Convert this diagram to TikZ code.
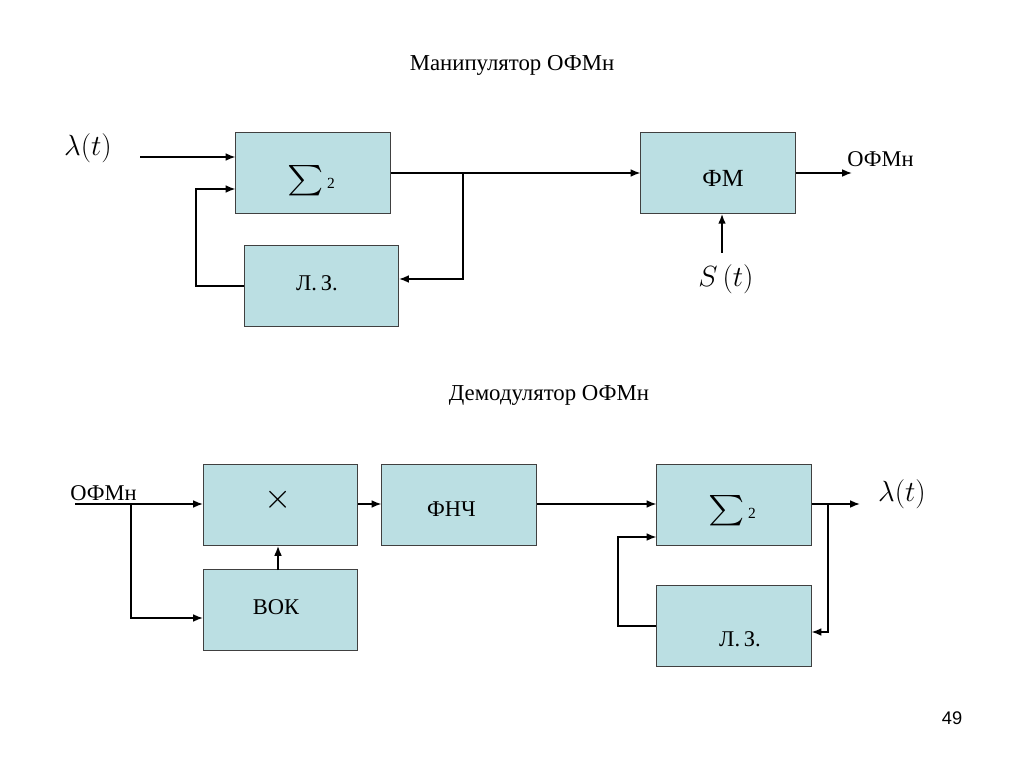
\documentclass[tikz,border=0pt]{standalone}
\usepackage{amsmath}
\usepackage{fontspec}
\setmainfont{Liberation Serif}
\newfontfamily\pagefont{Liberation Sans}
\usetikzlibrary{arrows.meta}
\usetikzlibrary{calc,positioning}
\definecolor{boxblue}{RGB}{187,223,227}
\newcommand{\bigsum}{\scalebox{1.7}[1.5]{$\sum$}\,{\fontsize{11}{13}\selectfont 2}}

\begin{document}
\begin{tikzpicture}[>={Latex[length=7pt,width=5.5pt]}, x=0.025cm, y=-0.025cm,
    block/.style={draw=black!75, line width=0.7pt, fill=boxblue, minimum width=3.85cm, minimum height=2.02cm, inner sep=0pt},
    wire/.style={line width=1.1pt},
    txt/.style={inner sep=0pt, font=\fontsize{16}{19}\selectfont},
    mth/.style={inner sep=0pt, font=\fontsize{20}{24}\selectfont},
    sumtxt/.style={inner sep=0pt, font=\fontsize{15}{18}\selectfont}]
    \useasboundingbox (0,0) rectangle (1024,767);

    % manipulator
    \node[txt, anchor=base, font=\fontsize{16.2}{19}\selectfont] (title1) at (512,71) {Манипулятор ОФМн};
    \node[block] (sum1) at (313,173) {};
    \node[block] (dl1) at (321.5,286) {};
    \node[block] (fm) at (718,173) {};
    \node[sumtxt] (sum1-txt) at (311,180.5) {\bigsum};
    \node[txt, anchor=base] (dl1-txt) at (317,290) {Л.\,З.};
    \node[txt, anchor=base, font=\fontsize{17.5}{20}\selectfont] (fm-txt) at (723,187) {ФМ};

    \node[mth] (lam1) at (88,148) {$\lambda(t)$};
    \node[mth] (s1) at (726,279) {$S\,(t)$};
    \node[txt, anchor=base west] (out1-txt) at (847,167) {ОФМн};

    \coordinate (lamin) at (140,157);
    \coordinate (fb1) at (196,189);
    \coordinate (br1) at (463,173);
    \coordinate (br1e) at (463,279);
    \coordinate (st) at (722,253);
    \coordinate (out1) at (852,173);

    \draw[wire,->] (lamin) -- (lamin -| sum1.west);
    \draw[wire,->] (dl1.west) -| (fb1) -- (fb1 -| sum1.west);
    \draw[wire,->] (sum1.east) -- (fm.west);
    \draw[wire,->] (br1) -- (br1e) -- (br1e -| dl1.east);
    \draw[wire,->] (st) -- (st |- fm.south);
    \draw[wire,->] (fm.east) -- (out1);

    % demodulator
    \node[txt, anchor=base, font=\fontsize{16.2}{19}\selectfont] (title2) at (549,400) {Демодулятор ОФМн};
    \node[block] (mul) at (280.5,505) {};
    \node[block] (vok) at (280.5,610) {};
    \node[block] (lpf) at (459,505) {};
    \node[block] (sum2) at (734,505) {};
    \node[block] (dl2) at (734,626) {};
    \node[mth, font=\fontsize{27}{30}\selectfont] (mul-txt) at (278,500) {$\times$};
    \node[txt, anchor=base] (vok-txt) at (276,614) {ВОК};
    \node[txt, anchor=base] (lpf-txt) at (451.5,516) {ФНЧ};
    \node[sumtxt] (sum2-txt) at (732,511) {\bigsum};
    \node[txt, anchor=base] (dl2-txt) at (740,646) {Л.\,З.};

    \node[txt, anchor=base west] (in2-txt) at (70,500) {ОФМн};
    \node[mth] (lam2) at (902,494) {$\lambda(t)$};

    \coordinate (in2) at (75,504);
    \coordinate (br2) at (131,504);
    \coordinate (br2e) at (131,618);
    \coordinate (vk) at (278,570);
    \coordinate (fb2) at (618,537);
    \coordinate (br3) at (828,504);
    \coordinate (br3e) at (828,632);
    \coordinate (out2) at (860,504);

    \draw[wire,->] (in2) -- (in2 -| mul.west);
    \draw[wire,->] (br2) -- (br2e) -- (br2e -| vok.west);
    \draw[wire,->] (vk) -- (vk |- mul.south);
    \draw[wire,->] (mul.east |- in2) -- (lpf.west |- in2);
    \draw[wire,->] (lpf.east |- in2) -- (sum2.west |- in2);
    \draw[wire,->] (dl2.west) -| (fb2) -- (fb2 -| sum2.west);
    \draw[wire,->] (sum2.east |- in2) -- (out2);
    \draw[wire,->] (br3) -- (br3e) -- (br3e -| dl2.east);

    \node[font=\pagefont\fontsize{13}{15}\selectfont, inner sep=0pt] (page) at (952,718) {49};
\end{tikzpicture}
\end{document}
